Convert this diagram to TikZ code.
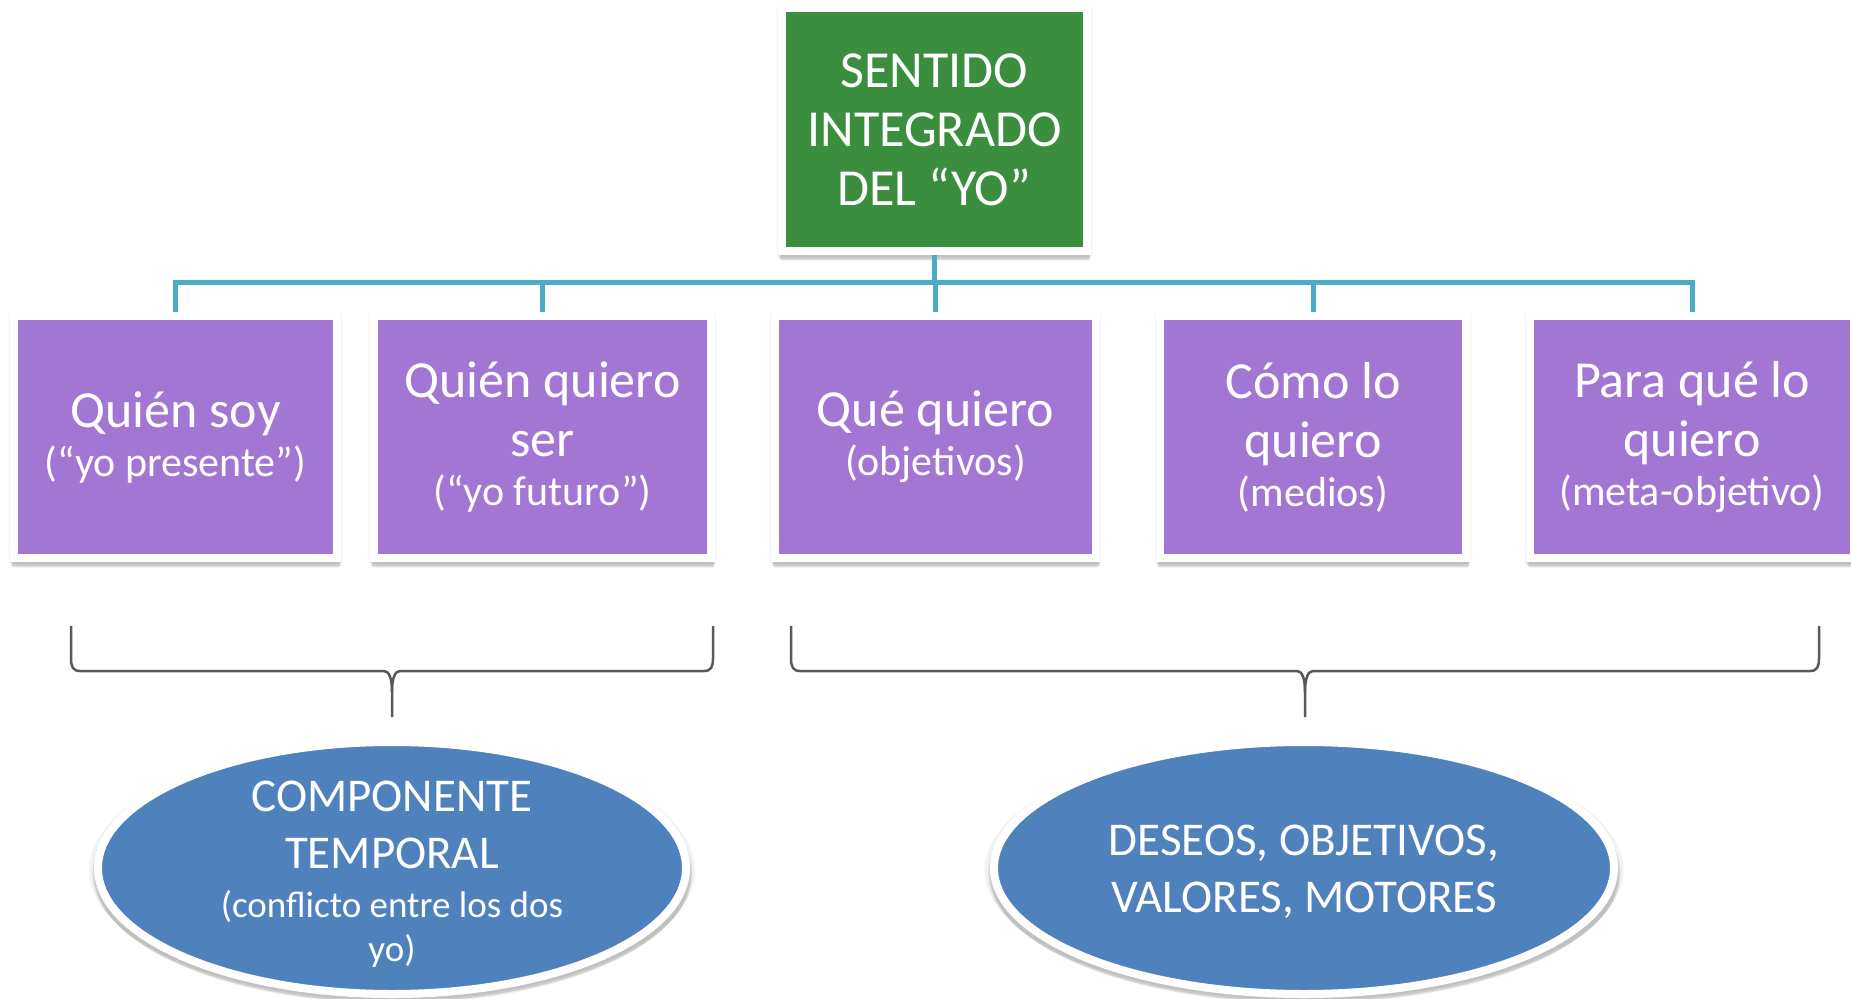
\documentclass[tikz,border=0pt]{standalone}
\usepackage{fontspec}
\setmainfont{Carlito}
\usetikzlibrary{shapes.geometric,shadows}
\definecolor{topgreen}{HTML}{3B8E3E}
\definecolor{boxpurple}{HTML}{A277D3}
\definecolor{ellblue}{HTML}{4F81BD}
\definecolor{linkteal}{HTML}{4BACC6}
\definecolor{bracegray}{HTML}{595959}
\newcommand\mainfs{\fontsize{26pt}{29.5pt}\selectfont}
\newcommand\subfs{\fontsize{21pt}{24pt}\selectfont}
\newcommand\ellfs{\fontsize{23.5pt}{28.5pt}\selectfont}
\newcommand\ellsubfs{\fontsize{18.5pt}{22pt}\selectfont}
\tikzset{
  softshadow/.style={
    drop shadow={shadow xshift=0.3pt, shadow yshift=-4.2pt, shadow scale=1.01, opacity=0.05, fill=black},
    drop shadow={shadow xshift=0.3pt, shadow yshift=-3.4pt, shadow scale=1.015, opacity=0.07, fill=black},
    drop shadow={shadow xshift=0.2pt, shadow yshift=-2.6pt, shadow scale=1.02, opacity=0.09, fill=black},
    drop shadow={shadow xshift=0pt, shadow yshift=-1pt, shadow scale=1.03, opacity=0.05, fill=black}},
  boxbase/.style={rectangle, draw=white, line width=4pt, inner sep=0pt,
    text=white, align=center, font=\mainfs, softshadow},
  purplebox/.style={boxbase, fill=boxpurple, minimum height=121pt},
  greenbox/.style={boxbase, fill=topgreen, minimum width=152.5pt, minimum height=121.5pt},
  ovalshape/.style={ellipse, draw=white, line width=4pt, inner sep=0pt,
    fill=ellblue, minimum height=126pt, softshadow},
  ovaltext/.style={text=white, align=center, font=\ellfs, inner sep=0pt},
  link/.style={draw=linkteal, line width=2.5pt},
  bracestyle/.style={draw=bracegray, line width=1.25pt, line join=round},
}
\newcommand\bracedraw[3]{%
  \draw[bracestyle] (#1,626) -- (#1,658) .. controls (#1,667) and ({#1+2},671) .. ({#1+9},671)
     -- ({#2-8},671) .. controls ({#2-3},671) and (#2,678) .. (#2,692) -- (#2,717);
  \draw[bracestyle] (#3,626) -- (#3,658) .. controls (#3,667) and ({#3-2},671) .. ({#3-9},671)
     -- ({#2+8},671) .. controls ({#2+3},671) and (#2,678) .. (#2,692);
}
\begin{document}
\begin{tikzpicture}[x=0.5pt, y=-0.5pt]
\path[use as bounding box, fill=white] (0,0) rectangle (1851,999);

% top node
\node[greenbox] (top) at (934.5,129.5) {SENTIDO\\INTEGRADO\\DEL “YO”};

% second row
\node[purplebox, minimum width=161.5pt] (b1) at (175.5,437) {Quién soy\\[-5pt]{\subfs (“yo presente”)}};
\node[purplebox, minimum width=168.5pt] (b2) at (542.5,437) {Quién quiero\\ser\\[-5pt]{\subfs (“yo futuro”)}};
\node[purplebox, minimum width=160.5pt] (b3) at (935.5,437) {Qué quiero\\[-5pt]{\subfs (objetivos)}};
\node[purplebox, minimum width=153pt]   (b4) at (1313,437) {Cómo lo\\quiero\\[-5pt]{\subfs (medios)}};
\node[purplebox, minimum width=162pt]   (b5) at (1692,437) {Para qué lo\\quiero\\[-5pt]{\subfs (meta-objetivo)}};

% connectors
\coordinate (bus) at (top.south |- 0,283);
\draw[link] (top.south) -- (bus);
\foreach \b in {b1,b2,b3,b4,b5} \draw[link] (bus) -| (\b.north);

% braces
\bracedraw{71}{392}{713}
\bracedraw{791}{1305}{1819}

% ovals
\node[ovalshape, minimum width=294pt] (e1) at (392,868) {};
\node[ovalshape, minimum width=310pt] (e2) at (1304,868) {};
\node[ovaltext] (t1) at ([yshift=-3pt]e1.center) {COMPONENTE\\TEMPORAL\\[-4pt]{\ellsubfs (conflicto entre los dos}\\[-6.5pt]{\ellsubfs yo)}};
\node[ovaltext] (t2) at ([yshift=-2pt]e2.center) {DESEOS, OBJETIVOS,\\VALORES, MOTORES};
\end{tikzpicture}
\end{document}
